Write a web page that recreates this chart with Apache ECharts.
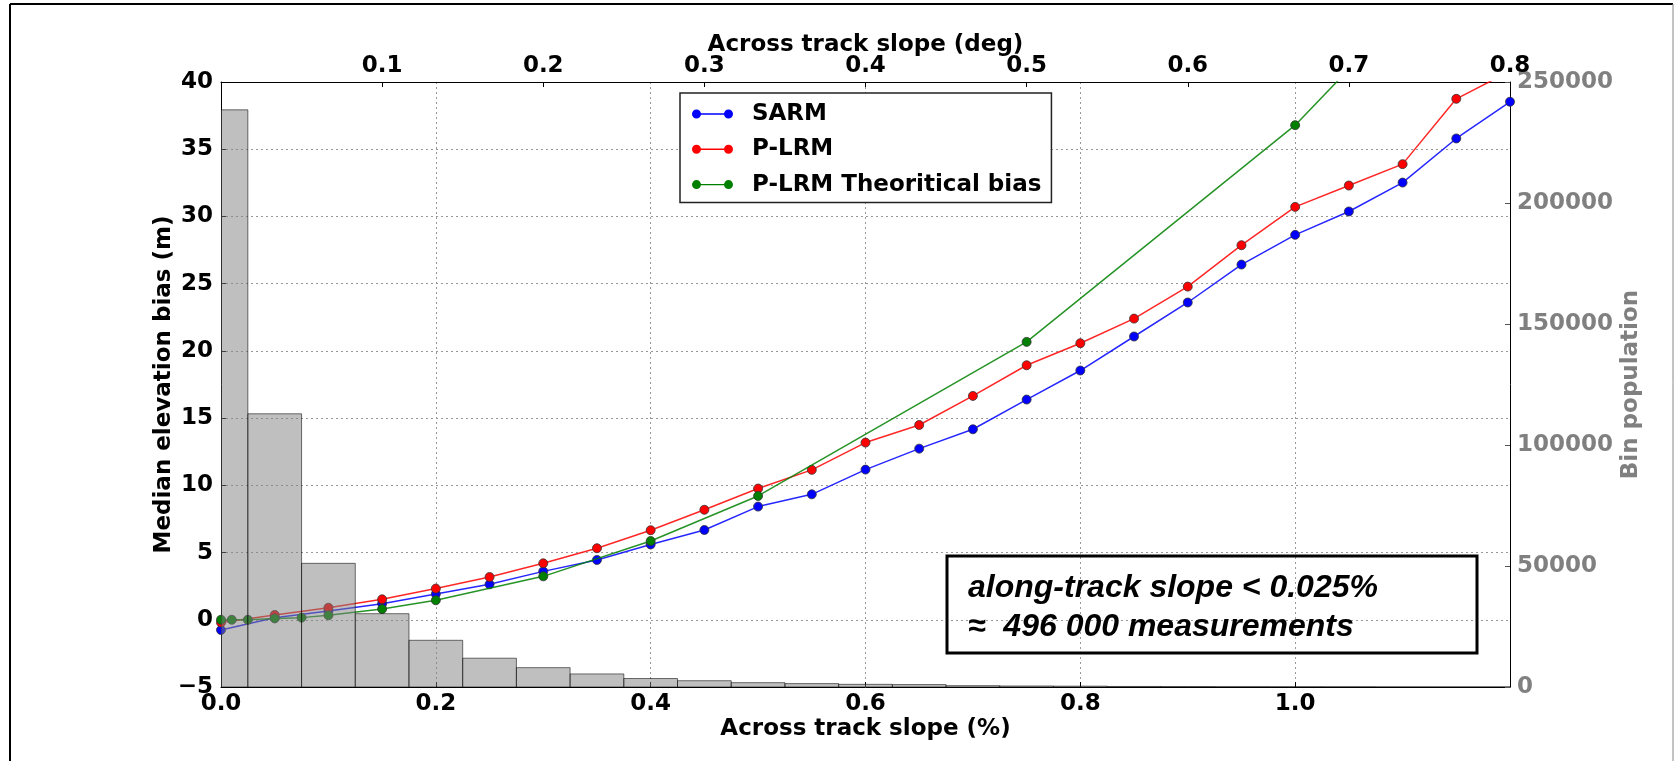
<!DOCTYPE html>
<html>
<head>
<meta charset="utf-8">
<script src="https://cdn.jsdelivr.net/npm/echarts@6/dist/echarts.min.js"></script>
<style>
html,body{margin:0;padding:0;background:#fff;}
#chart{width:1675px;height:761px;}
</style>
</head>
<body>
<div id="chart"></div>
<script>
// ---- data ----
const slopeX = [0, 0.05, 0.1, 0.15, 0.2, 0.25, 0.3, 0.35, 0.4, 0.45, 0.5, 0.55, 0.6,
                0.65, 0.7, 0.75, 0.8, 0.85, 0.9, 0.95, 1.0, 1.05, 1.1, 1.15, 1.2];
const sarm = [-0.76, 0.15, 0.65, 1.2, 1.92, 2.64, 3.6, 4.45, 5.6, 6.68, 8.42, 9.33, 11.17,
              12.73, 14.17, 16.38, 18.54, 21.07, 23.6, 26.42, 28.63, 30.37, 32.52, 35.8, 38.53];
const plrm = [-0.2, 0.36, 0.9, 1.52, 2.32, 3.18, 4.2, 5.32, 6.66, 8.18, 9.76, 11.15, 13.18,
              14.49, 16.65, 18.93, 20.57, 22.4, 24.78, 27.86, 30.71, 32.3, 33.89, 38.75, 40.8];
const theoX = [0, 0.01, 0.025, 0.05, 0.075, 0.1, 0.15, 0.2, 0.3, 0.4, 0.5, 0.75, 1.0, 1.25];
const theo  = [0.0, 0.0, 0.0, 0.1, 0.16, 0.33, 0.8, 1.45, 3.23, 5.86, 9.21, 20.67, 36.79, 57.6];
const binEdges = [0, 0.025, 0.075, 0.125, 0.175, 0.225, 0.275, 0.325, 0.375, 0.425, 0.475,
                  0.525, 0.575, 0.625, 0.675, 0.725, 0.775, 0.825, 0.875, 0.925, 0.975,
                  1.025, 1.075, 1.125, 1.175, 1.2];
const binCounts = [238500, 112900, 51100, 30300, 19300, 11900, 8000, 5400, 3500, 2600, 1800,
                   1400, 1100, 1000, 550, 420, 350, 220, 160, 120, 90, 70, 50, 40, 30];
const seriesNames = ['SARM', 'P-LRM', 'P-LRM Theoritical bias'];
const seriesColors = ['#0000ff', '#ff0000', '#008000'];

// ---- build ----
const pair = (xs, ys) => xs.map((x, i) => [x, ys[i]]);
const histData = binCounts.map((c, i) => [binEdges[i], binEdges[i + 1], c]);
const FONT = 'DejaVu Sans';
const FS = 23;
const iconPath = 'path://M0,4.5A4.5,4.5,0,1,1,9,4.5A4.5,4.5,0,1,1,0,4.5ZM8,3.8L33,3.8L33,5.2L8,5.2ZM32,4.5A4.5,4.5,0,1,1,41,4.5A4.5,4.5,0,1,1,32,4.5Z';
const dotted = {show: true, lineStyle: {color: '#999', type: [2, 3], width: 1}};
const labelBold = {fontFamily: FONT, fontWeight: 'bold', fontSize: FS, color: '#000'};
const minus = v => (v < 0 ? '\u2212' + Math.abs(v) : String(v));

const chart = echarts.init(document.getElementById('chart'), null, {renderer: 'canvas'});
const lineSeries = (name, data, color, z) => ({
  name, type: 'line', data, xAxisIndex: 0, yAxisIndex: 0, z,
  symbol: 'circle', symbolSize: 9, showSymbol: true, clip: true,
  lineStyle: {color, width: 1.5, opacity: 0.85},
  itemStyle: {color, borderColor: '#333', borderWidth: 0.8},
  emphasis: {disabled: true}
});

chart.setOption({
  animation: false,
  textStyle: {fontFamily: FONT},
  grid: {left: 221, right: 165, top: 82, bottom: 74, containLabel: false},
  legend: {
    left: 680, top: 93, orient: 'vertical',
    padding: [8, 10, 5, 12], itemGap: 9.3, itemWidth: 41, itemHeight: 9,
    borderColor: '#222', borderWidth: 1.5, backgroundColor: '#fff',
    itemStyle: {borderWidth: 0},
    textStyle: {fontFamily: FONT, fontWeight: 'bold', fontSize: FS, color: '#000', padding: [0, 0, 0, 14], lineHeight: 26},
    data: seriesNames.map(n => ({name: n, icon: iconPath}))
  },
  xAxis: [
    {
      type: 'value', position: 'bottom', min: 0, max: 1.2, interval: 0.2,
      name: 'Across track slope (%)', nameLocation: 'middle', nameGap: 31, nameMoveOverlap: false,
      nameTextStyle: {fontFamily: FONT, fontWeight: 'bold', fontSize: FS, color: '#000'},
      axisLine: {show: true, onZero: false, lineStyle: {color: '#000', width: 1}},
      axisTick: {show: true, inside: true, length: 5, lineStyle: {color: '#000'}},
      axisLabel: Object.assign({margin: 6, showMaxLabel: false, formatter: v => v.toFixed(1)}, labelBold),
      splitLine: dotted
    },
    {
      type: 'value', position: 'top', min: 0, max: 0.8, interval: 0.1,
      name: 'Across track slope (deg)', nameLocation: 'middle', nameGap: 25, nameMoveOverlap: false,
      nameTextStyle: {fontFamily: FONT, fontWeight: 'bold', fontSize: FS, color: '#000'},
      axisLine: {show: true, onZero: false, lineStyle: {color: '#000', width: 1}},
      axisTick: {show: true, inside: true, length: 5, lineStyle: {color: '#000'}},
      axisLabel: Object.assign({margin: 4, showMinLabel: false, formatter: v => v.toFixed(1)}, labelBold),
      splitLine: {show: false}
    }
  ],
  yAxis: [
    {
      type: 'value', position: 'left', min: -5, max: 40, interval: 5,
      name: 'Median elevation bias (m)', nameLocation: 'middle', nameGap: 45, nameRotate: 90,
      nameMoveOverlap: false,
      nameTextStyle: {fontFamily: FONT, fontWeight: 'bold', fontSize: FS, color: '#000'},
      axisLine: {show: true, onZero: false, lineStyle: {color: '#000', width: 1}},
      axisTick: {show: true, inside: true, length: 5, lineStyle: {color: '#000'}},
      axisLabel: Object.assign({margin: 8, formatter: minus}, labelBold),
      splitLine: dotted
    },
    {
      type: 'value', position: 'right', min: 0, max: 250000, interval: 50000,
      name: 'Bin population', nameLocation: 'middle', nameGap: 110, nameRotate: 90,
      nameMoveOverlap: false,
      nameTextStyle: {fontFamily: FONT, fontWeight: 'bold', fontSize: FS, color: '#808080'},
      axisLine: {show: true, onZero: false, lineStyle: {color: '#000', width: 1}},
      axisTick: {show: true, inside: true, length: 5, lineStyle: {color: '#555'}},
      axisLabel: {margin: 7, fontFamily: FONT, fontWeight: 'bold', fontSize: FS, color: '#808080',
                  formatter: v => String(v)},
      splitLine: {show: false}
    }
  ],
  series: [
    lineSeries(seriesNames[0], pair(slopeX, sarm), seriesColors[0], 2),
    lineSeries(seriesNames[1], pair(slopeX, plrm), seriesColors[1], 3),
    lineSeries(seriesNames[2], pair(theoX, theo), seriesColors[2], 4),
    {
      type: 'custom', name: 'hist', xAxisIndex: 0, yAxisIndex: 1, z: 6, clip: true,
      data: histData, encode: {x: [0, 1], y: 2},
      renderItem: (params, api) => {
        const p0 = api.coord([api.value(0), api.value(2)]);
        const p1 = api.coord([api.value(1), 0]);
        return {
          type: 'rect',
          shape: {x: p0[0], y: p0[1], width: p1[0] - p0[0], height: p1[1] - p0[1]},
          style: {fill: 'rgba(128,128,128,0.5)', stroke: 'rgba(0,0,0,0.55)', lineWidth: 1}
        };
      }
    }
  ],
  graphic: [
    {type: 'line', shape: {x1: 10, y1: 4, x2: 1673, y2: 4}, style: {stroke: '#000', lineWidth: 2}, z: 100},
    {type: 'line', shape: {x1: 10, y1: 4, x2: 10, y2: 761}, style: {stroke: '#000', lineWidth: 2}, z: 100},
    {type: 'line', shape: {x1: 1673, y1: 4, x2: 1673, y2: 761}, style: {stroke: '#888', lineWidth: 1}, z: 100},
    {type: 'rect', shape: {x: 947, y: 556, width: 530, height: 97},
     style: {fill: 'none', stroke: '#000', lineWidth: 3}, z: 100},
    {type: 'text', x: 968, y: 588, z: 100,
     style: {text: 'along-track slope < 0.025%', fill: '#000', verticalAlign: 'middle',
             font: 'italic bold 32px "Liberation Sans"'}},
    {type: 'text', x: 968, y: 627, z: 100,
     style: {text: '\u2248  496 000 measurements', fill: '#000', verticalAlign: 'middle',
             font: 'italic bold 32px "Liberation Sans"'}}
  ]
});
</script>
</body>
</html>
